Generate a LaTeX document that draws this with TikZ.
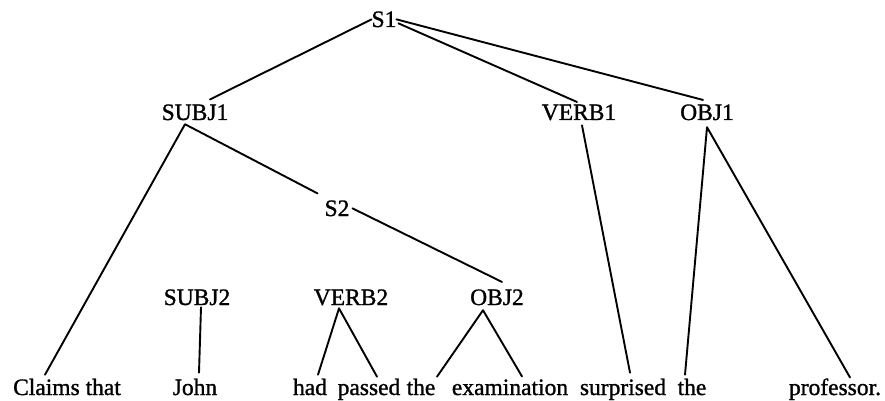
\documentclass[tikz,border=0pt]{standalone}
\usepackage{fontspec}
\setmainfont{Liberation Serif}[BoldFont={Liberation Serif},BoldFeatures={FakeBold=1.2}]
\begin{document}
\begin{tikzpicture}[x=1pt,y=1pt,
  lab/.style={anchor=base,inner sep=0pt,outer sep=0pt,font=\fontsize{23.5}{28}\selectfont\bfseries},
  edge/.style={line width=1.9pt,line cap=round,line join=round}]
\useasboundingbox (0,0) rectangle (885,-401);
% labels
\node[lab] (S1) at (384,-27) {S1};
\node[lab] (SUBJ1) at (195,-120) {SUBJ1};
\node[lab] (VERB1) at (579,-120) {VERB1};
\node[lab] (OBJ1) at (707,-120) {OBJ1};
\node[lab] (S2) at (337,-216) {S2};
\node[lab] (SUBJ2) at (197,-305) {SUBJ2};
\node[lab] (VERB2) at (351,-305) {VERB2};
\node[lab] (OBJ2) at (497,-305) {OBJ2};
% words
\node[lab] (claims) at (67,-395) {Claims that};
\node[lab] (john) at (195,-395) {John};
\node[lab] (had) at (310,-395) {had};
\node[lab] (passed) at (369,-395) {passed};
\node[lab] (theA) at (421,-395) {the};
\node[lab] (exam) at (510,-395) {examination};
\node[lab] (surp) at (623,-395) {surprised};
\node[lab] (theB) at (692,-395) {the};
\node[lab] (prof) at (835,-395) {professor.};
% connectors
\draw[edge] (S1.west) -- ([xshift=15pt,yshift=5pt]SUBJ1.north);
\draw[edge] ([xshift=2pt,yshift=-4pt]S1.east) -- ([xshift=-2pt,yshift=2.5pt]VERB1.north);
\draw[edge] (S1.east) -- ([xshift=-4pt,yshift=4.5pt]OBJ1.north);
\draw[edge] ([xshift=-22pt,yshift=4pt]claims.north) -- ([xshift=-10pt,yshift=-4pt]SUBJ1.south) -- ([xshift=-7pt,yshift=7pt]S2.north west);
\draw[edge] ([xshift=3pt]S2.east) -- ([xshift=5pt,yshift=7.5pt]OBJ2.north);
\draw[edge] ([xshift=4pt,yshift=-2pt]SUBJ2.south) -- ([xshift=4pt,yshift=6pt]john.north);
\draw[edge] ([xshift=8pt,yshift=4pt]had.north) -- ([xshift=-12pt,yshift=-3pt]VERB2.south) -- ([xshift=8pt,yshift=2pt]passed.north);
\draw[edge] ([xshift=16pt,yshift=2pt]theA.north) -- ([xshift=-14pt,yshift=-5pt]OBJ2.south) -- ([xshift=12pt,yshift=3pt]exam.north);
\draw[edge] ([xshift=3pt,yshift=-5pt]VERB1.south) -- ([xshift=7pt,yshift=6pt]surp.north);
\draw[edge] ([xshift=-7pt,yshift=4pt]theB.north) -- ([yshift=-7pt]OBJ1.south) -- ([xshift=15pt,yshift=1pt]prof.north);
\end{tikzpicture}
\end{document}
